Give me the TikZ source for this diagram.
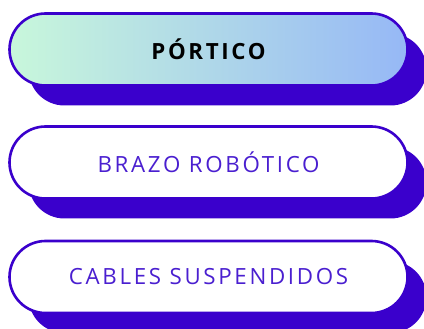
\documentclass[tikz,border=0pt]{standalone}
\usepackage{fontspec}
\usetikzlibrary{shadows}
\newfontfamily\btnfont[LetterSpace=12]{Open Sans}
\definecolor{indigo}{HTML}{3A00CC}
\definecolor{labelink}{HTML}{4A1FD0}
\definecolor{mint}{HTML}{C8F7DB}
\definecolor{sky}{HTML}{96B8F6}
\tikzstyle{pill}=[draw=indigo,line width=2.6pt,rounded corners=36pt,minimum width=398pt,minimum height=72pt,fill=white,
  drop shadow={shadow xshift=19pt,shadow yshift=-20pt,fill=indigo,opacity=1}]
\tikzstyle{active}=[pill,left color=mint,right color=sky,font=\btnfont\bfseries\fontsize{22.3}{26}\selectfont]
\tikzstyle{option}=[pill,text=labelink,font=\btnfont\fontsize{22.3}{26}\selectfont]

\begin{document}
\begin{tikzpicture}[x=1pt,y=1pt]
                    \useasboundingbox (0,0) rectangle (424,329);
                    \node (portico) at (208.5,279.5) [active] {PÓRTICO};
                    \node (brazo) at (208.5,166.5) [option] {BRAZO ROBÓTICO};
                    \node (cables) at (208.5,52) [option] {CABLES SUSPENDIDOS};
                \end{tikzpicture}
\end{document}
